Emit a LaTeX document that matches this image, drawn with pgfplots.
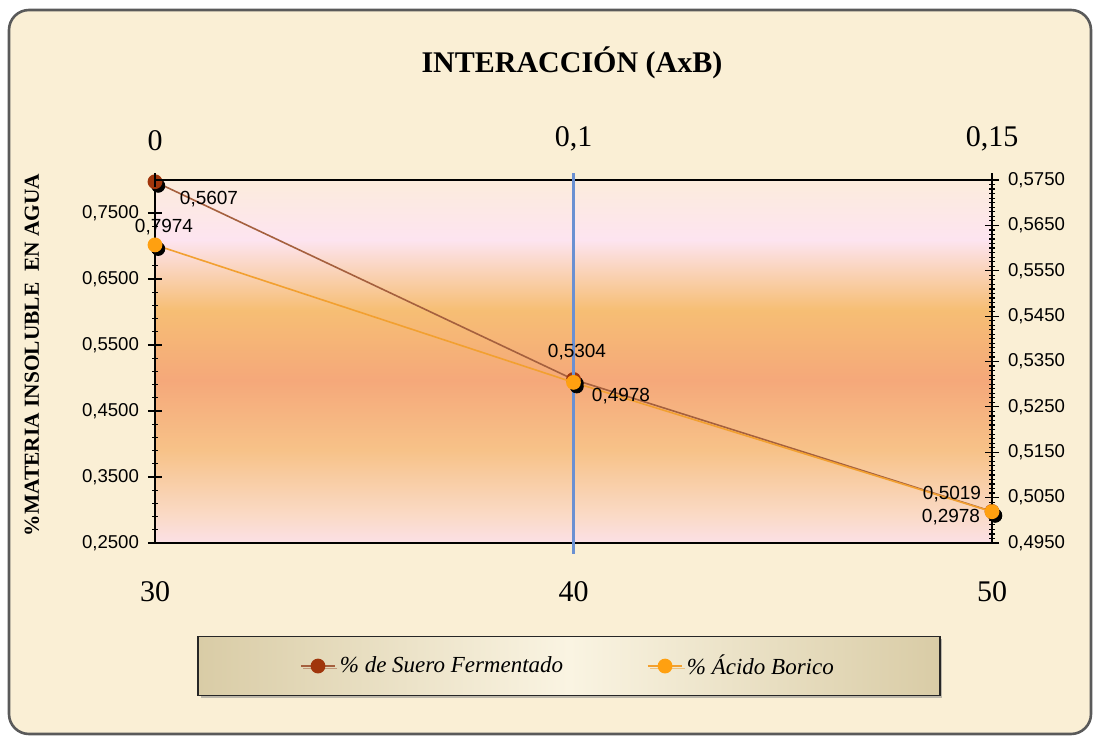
\documentclass[border=0pt]{standalone}
\usepackage{fontspec}
\setmainfont{Liberation Serif}
\setsansfont{Liberation Sans}
\usepackage{graphicx}
\usepackage{pgfplots}
\pgfplotsset{compat=1.18}
\usetikzlibrary{shadows}

\definecolor{paper}{HTML}{FAEFD5}
\definecolor{frame}{HTML}{5A5A5A}
\definecolor{suero}{HTML}{A0360C}
\definecolor{sueroline}{HTML}{A5603E}
\definecolor{borico}{HTML}{FFA010}
\definecolor{boricoline}{HTML}{F2A030}
\definecolor{guide}{HTML}{6A90D2}
% plot area gradient, bottom to top
\definecolor{bg0}{HTML}{FBE0E6}
\definecolor{bg1}{HTML}{FADAC6}
\definecolor{bg2}{HTML}{F7C288}
\definecolor{bg3}{HTML}{F5A87A}
\definecolor{bg4}{HTML}{F6BE74}
\definecolor{bg5}{HTML}{FDE4F0}
\definecolor{bg6}{HTML}{FCECDC}
\definecolor{lg1}{HTML}{D9CCA6}
\definecolor{lg2}{HTML}{FAF4E2}

\pgfdeclareverticalshading{plotbg}{100bp}{%
  color(0bp)=(bg0); color(25bp)=(bg0); color(28.85bp)=(bg1);
  color(37.8bp)=(bg2); color(47.45bp)=(bg3); color(57.1bp)=(bg4);
  color(66.75bp)=(bg5); color(75bp)=(bg6); color(100bp)=(bg6)}
\pgfdeclarehorizontalshading{legendbg}{100bp}{%
  color(0bp)=(lg1); color(25bp)=(lg1); color(50bp)=(lg2);
  color(75bp)=(lg1); color(100bp)=(lg1)}

\begin{document}
\begin{tikzpicture}[x=1pt,y=1pt]
% canvas: 1094 x 736 px at 0.5pt per px
\useasboundingbox (0,0) rectangle (547,368);
\fill[paper, rounded corners=10pt, draw=frame, line width=1.3pt] (4.5,1) rectangle (545.5,363);

% % de Suero Fermentado: bottom x axis, left y axis
\begin{axis}[
  at={(77.5pt,96.5pt)}, anchor=south west,
  scale only axis, width=418.5pt, height=181.5pt,
  xmin=30, xmax=50, ymin=0.25, ymax=0.8,
  axis x line*=bottom, axis y line*=left,
  axis line style={black, line width=0.8pt, -},
  axis background/.style={shading=plotbg},
  xtick={30,40,50}, xticklabels={30,40,50},
  x tick style={draw=none},
  xticklabel style={font=\fontsize{15}{16}\selectfont},
  xticklabel shift=12pt,
  ytick={0.25,0.35,0.45,0.55,0.65,0.75},
  minor y tick num=4,
  tick align=center,
  major tick length=7pt, minor tick length=3pt,
  y tick style={black, line width=0.6pt},
  yticklabel style={font=\sffamily\fontsize{9.3}{10}\selectfont,
    /pgf/number format/.cd, fixed, fixed zerofill, precision=4, use comma, assume math mode=true},
  yticklabel shift=1pt,
  clip=false,
]
\addplot[only marks, mark=*, mark size=3.3pt, black,
  mark options={xshift=1.6pt, yshift=-2pt}, forget plot]
  coordinates {(30,0.7974) (40,0.4978) (50,0.2978)};
\addplot[sueroline, line width=0.8pt, mark=*, mark size=3.3pt,
  mark options={suero, fill=suero}]
  coordinates {(30,0.7974) (40,0.4978) (50,0.2978)};
\end{axis}

% % Acido Borico: top x axis, right y axis
\begin{axis}[
  at={(77.5pt,96.5pt)}, anchor=south west,
  scale only axis, width=418.5pt, height=181.5pt,
  xmin=0, xmax=2, ymin=0.495, ymax=0.575,
  axis x line*=top, axis y line*=right,
  axis line style={black, line width=0.8pt, -},
  xtick={0,1,2}, xticklabels={0,{0,1},{0,15}},
  xticklabel style={font=\fontsize{15}{16}\selectfont},
  xticklabel shift=7.5pt,
  ytick={0.495,0.505,0.515,0.525,0.535,0.545,0.555,0.565,0.575},
  minor y tick num=9,
  tick align=center,
  major tick length=7pt, minor tick length=3pt,
  tick style={black, line width=0.6pt},
  yticklabel style={font=\sffamily\fontsize{9.3}{10}\selectfont,
    /pgf/number format/.cd, fixed, fixed zerofill, precision=4, use comma, assume math mode=true},
  yticklabel shift=1pt,
  clip=false,
  legend columns=2,
  legend cell align=left,
  legend style={at={(0.4946,-0.339)}, anchor=center,
    shading=legendbg, draw=black!85, line width=0.8pt,
    drop shadow={shadow xshift=1.2pt, shadow yshift=-1.2pt, opacity=0.5},
    font=\itshape\fontsize{11.5}{13}\selectfont,
    inner xsep=51pt, inner ysep=7pt,
    /tikz/every even column/.append style={column sep=40pt}},
]
\draw[guide, line width=1.1pt] (axis cs:1,0.5765) -- (axis cs:1,0.4925);
\addplot[only marks, mark=*, mark size=3.3pt, black,
  mark options={xshift=1.6pt, yshift=-2pt}, forget plot]
  coordinates {(0,0.5607) (1,0.5304) (2,0.5019)};
\addlegendimage{sueroline, line width=0.8pt, mark=*, mark size=3.3pt, mark options={suero, fill=suero}}
\addlegendentry{\% de Suero Fermentado}
\addplot[boricoline, line width=0.8pt, mark=*, mark size=3.3pt,
  mark options={borico, fill=borico}]
  coordinates {(0,0.5607) (1,0.5304) (2,0.5019)};
\addlegendentry{\% Ácido Borico}
\end{axis}

% texts placed in pixel coordinates of the reference
\begin{scope}[x=0.5pt, y=-0.5pt, yshift=368pt]
\node[font=\bfseries\fontsize{15}{17}\selectfont] at (572,63) {INTERACCIÓN (AxB)};
\node[rotate=90, font=\bfseries\fontsize{10.7}{12}\selectfont] at (32,355) {\%MATERIA INSOLUBLE\ \ EN AGUA};
\begin{scope}[every node/.style={font=\sffamily\fontsize{9.5}{10}\selectfont, inner sep=0pt}]
\node at (209,199) {0,5607};
\node at (164,227) {0,7974};
\node at (577,352) {0,5304};
\node at (621,396) {0,4978};
\node at (952,494) {0,5019};
\node at (951,517) {0,2978};
\end{scope}
\end{scope}
\end{tikzpicture}
\end{document}
